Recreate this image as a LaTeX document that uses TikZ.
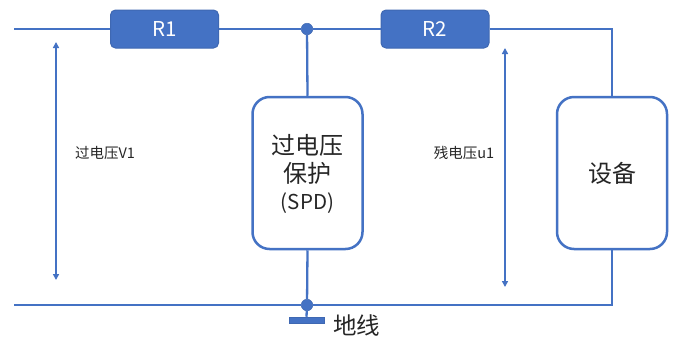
\documentclass[tikz,border=0pt]{standalone}
\usepackage{fontspec}
\setmainfont{Noto Sans CJK SC}
\usetikzlibrary{arrows.meta}
\definecolor{blu}{HTML}{4472C4}
\definecolor{blud}{HTML}{3F68B2}
\definecolor{txt}{HTML}{262626}
\tikzset{
  x=1pt,y=-1pt,
  wire/.style={draw=blu,line width=2.3pt},
  res/.style={draw=blud,fill=blu,line width=1pt,rounded corners=5pt,minimum width=108pt,minimum height=38pt,inner sep=0pt,text=white,font=\fontsize{20.5}{24}\selectfont},
  bigbox/.style={draw=blu,fill=white,line width=2.5pt,rounded corners=17pt,minimum width=110pt,minimum height=152pt,inner sep=0pt,text=txt,align=center,font=\fontsize{24}{27}\selectfont},
  dotn/.style={circle,fill=blu,draw=blud,line width=.5pt,minimum size=11.5pt,inner sep=0pt},
  volt/.style={draw=blu,line width=1.8pt,{Triangle[length=6pt,width=6pt]}-{Triangle[length=6pt,width=6pt]}},
  small/.style={text=txt,inner sep=0pt,font=\fontsize{14.5}{17}\selectfont},
}
\begin{document}
\begin{tikzpicture}
\useasboundingbox (0,0) rectangle (675,338);
\fill[white] (0,0) rectangle (675,338);
\coordinate (tl) at (14,29);
\coordinate (bl) at (14,305);
\coordinate (tr) at (612,29);
\coordinate (br) at (612,305);
\node[res] (r1) at (164.5,29) {R1};
\node[res] (r2) at (435,29) {R2};
\node[dotn] (jt) at (307,29) {};
\node[dotn] (jb) at (307,305) {};
\node[bigbox] (spd) at (307.5,173) {};
\node[text=txt,inner sep=0pt,align=center,font=\fontsize{24}{27.5}\selectfont] (spdt) at (307.5,174) {过电压\\保护\\{\fontsize{20.5}{27.5}\selectfont (SPD)}};
\node[bigbox] (dev) at (612,173) {设备};
\node[draw=blud,fill=blu,line width=.5pt,minimum width=35pt,minimum height=6pt,inner sep=0pt] (gnd) at (306.5,320) {};
\coordinate (a1) at (56,42);
\coordinate (a2) at (56,280);
\coordinate (b1) at (505,48);
\coordinate (b2) at (505,287);
\draw[wire] (tl) -- (r1.west);
\draw[wire] (r1.east) -- (jt);
\draw[wire] (jt) -- (r2.west);
\draw[wire] (r2.east) -- (tr) -- (dev.north);
\draw[wire] (jt) -- (spd.north);
\draw[wire] (spd.south) -- (jb);
\draw[wire] (jb) -- (gnd.north);
\draw[wire] (bl) -- (jb);
\draw[wire] (jb) -- (br) -- (dev.south);
\draw[volt] (a1) -- (a2);
\draw[volt] (b1) -- (b2);
\node[small] (v1) at (105,153) {过电压V1};
\node[small] (u1) at (464,153) {残电压u1};
\node[text=txt,inner sep=0pt,font=\fontsize{23.5}{26}\selectfont] (di) at (356.5,326) {地线};
\end{tikzpicture}
\end{document}
